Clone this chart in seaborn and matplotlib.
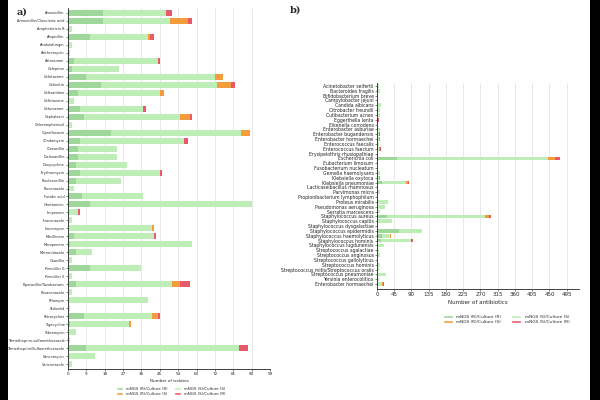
import matplotlib.pyplot as plt
import numpy as np
import pandas as pd
import seaborn as sns
from matplotlib.patches import Patch, Rectangle

# panel a: antibiotics
antibiotics = [
    "Amoxicillin", "Amoxicillin/Clavulanic acid", "Amphotericin B", "Ampicillin",
    "Anidulafungin", "Azithromycin", "Aztreonam", "Cefepime", "Cefotaxime",
    "Cefoxitin", "Ceftazidime", "Ceftriaxone", "Cefuroxime", "Cephalexin",
    "Chloramphenicol", "Ciprofloxacin", "Clindamycin", "Cloxacillin",
    "Dicloxacillin", "Doxycycline", "Erythromycin", "Flucloxacillin",
    "Fluconazole", "Fusidic acid", "Gentamicin", "Imipenem", "Itraconazole",
    "Lincomycin", "Mecillinam", "Meropenem", "Metronidazole", "Oxacillin",
    "Penicillin G", "Penicillin V", "Piperacillin/Tazobactam", "Posaconazole",
    "Rifampin", "Tedizolid", "Tetracycline", "Tigecycline", "Tobramycin",
    "Trimethoprim-sulfamethoxazole", "Trimethoprim/Sulfamethoxazole",
    "Vancomycin", "Voriconazole",
]
ab_rr = [17, 17, 0, 11, 0, 0, 3, 2, 9, 16, 5, 0, 6, 8, 0, 21, 6, 5, 5, 4, 6, 4,
         0, 7, 11, 0, 0, 0, 3, 1, 4, 0, 11, 0, 4, 0, 0, 0, 8, 1, 0, 0, 9, 0, 0]
ab_ss = [31, 33, 2, 28, 2, 1, 41, 23, 63, 57, 40, 3, 31, 47, 2, 64, 51, 19, 19, 25, 39, 22,
         3, 30, 79, 5, 2, 41, 39, 60, 8, 2, 25, 2, 47, 2, 39, 1, 33, 29, 4, 1, 75, 13, 2]
ab_rs = [0, 9, 0, 1, 0, 0, 0, 0, 4, 7, 2, 0, 0, 5, 0, 4, 0, 0, 0, 0, 0, 0,
         0, 0, 0, 0, 0, 1, 0, 0, 0, 0, 0, 0, 4, 0, 0, 0, 3, 1, 0, 0, 0, 0, 0]
ab_sr = [3, 2, 0, 2, 0, 0, 1, 0, 0, 2, 0, 0, 1, 1, 0, 0, 2, 0, 0, 0, 1, 0,
         0, 0, 0, 1, 0, 0, 1, 0, 0, 0, 0, 0, 5, 0, 0, 0, 1, 0, 0, 0, 4, 0, 0]

# panel b: species
species = [
    "Acinetobacter seifertii", "Bacteroides fragilis", "Bifidobacterium breve",
    "Campylobacter jejuni", "Candida albicans", "Citrobacter freundii",
    "Cutibacterium acnes", "Eggerthella lenta", "Eikenella corrodens",
    "Enterobacter asburiae", "Enterobacter bugandensis", "Enterobacter hormaechei",
    "Enterococcus faecalis", "Enterococcus faecium", "Erysipelothrix rhusiopathiae",
    "Escherichia coli", "Eubacterium limosum", "Fusobacterium nucleatum",
    "Gemella haemolysans", "Klebsiella oxytoca", "Klebsiella pneumoniae",
    "Lacticaseibacillus rhamnosus", "Parvimonas micra",
    "Propionibacterium lymphophilum", "Proteus mirabilis",
    "Pseudomonas aeruginosa", "Serratia marcescens", "Staphylococcus aureus",
    "Staphylococcus capitis", "Staphylococcus dysgalactiae",
    "Staphylococcus epidermidis", "Staphylococcus haemolyticus",
    "Staphylococcus hominis", "Staphylococcus lugdunensis",
    "Streptococcus agalactiae", "Streptococcus anginosus",
    "Streptococcus gallolyticus", "Streptococcus hominis",
    "Streptococcus mitis/Streptococcus oralis", "Streptococcus pneumoniae",
    "Yersinia enterocolitica", "Enterobacter hormaechei",
]
sp_rr = [0, 2, 0, 0, 0, 2, 0, 0, 0, 2, 0, 0, 0, 0, 0, 51, 0, 0, 0, 0, 13,
         0, 0, 0, 3, 0, 0, 26, 3, 0, 58, 13, 10, 0, 0, 0, 0, 0, 0, 0, 0, 3]
sp_ss = [5, 7, 3, 3, 11, 7, 9, 3, 1, 7, 5, 5, 5, 5, 1, 395, 3, 1, 8, 6, 63,
         3, 8, 3, 27, 22, 8, 255, 35, 3, 59, 21, 79, 18, 5, 9, 3, 8, 5, 24, 6, 11]
sp_rs = [0, 0, 0, 0, 0, 0, 0, 0, 0, 0, 0, 2, 0, 2, 0, 19, 0, 0, 0, 2, 5,
         0, 0, 0, 0, 0, 0, 12, 0, 0, 0, 2, 0, 0, 0, 0, 0, 0, 0, 0, 0, 2]
sp_sr = [0, 0, 0, 0, 0, 0, 0, 2, 0, 0, 3, 2, 0, 3, 0, 12, 0, 0, 0, 1, 3,
         0, 0, 0, 0, 0, 0, 5, 0, 0, 0, 1, 5, 0, 0, 0, 0, 0, 0, 0, 0, 2]

legend_labels = ["mNGS (R)/Culture (R)", "mNGS (R)/Culture (S)",
                 "mNGS (S)/Culture (S)", "mNGS (S)/Culture (R)"]
c_rr, c_ss, c_rs, c_sr = "#9fd69a", "#bfedb8", "#f39c3c", "#e85a6a"

sns.set_theme(style="ticks")
plt.rcParams["font.family"] = ["DejaVu Sans"]


def stacked(ax, names, rr, ss, rs, sr, width):
    keys = [f"k{i:02d}" for i in range(len(names))]
    rr, ss, rs, sr = (np.array(v) for v in (rr, ss, rs, sr))
    layers = [(rr + ss + rs + sr, c_sr), (rr + ss + rs, c_rs),
              (rr + ss, c_ss), (rr, c_rr)]
    for vals, color in layers:
        df = pd.DataFrame({"key": keys, "val": vals})
        sns.barplot(data=df, x="val", y="key", order=keys, orient="y",
                    color=color, saturation=1, width=width, ax=ax,
                    linewidth=0)
    ax.set_yticks(range(len(names)))
    ax.set_yticklabels(names)
    ax.set_ylabel("")
    ax.grid(axis="x", color="#e4e4e4", linewidth=0.6)
    ax.set_axisbelow(True)
    sns.despine(ax=ax)
    for s in ("left", "bottom"):
        ax.spines[s].set_linewidth(0.6)
        ax.spines[s].set_color("#222222")
    ax.tick_params(length=1.5, width=0.4, pad=1)


fig = plt.figure(figsize=(6, 4), dpi=100)
fig.patch.set_facecolor("black")
fig.add_artist(Rectangle((8 / 600, 0), 582 / 600, 1, transform=fig.transFigure,
                         facecolor="white", edgecolor="none", zorder=-10))

ax_a = fig.add_axes([68 / 600, 1 - 369 / 400, 202 / 600, 361 / 400])
stacked(ax_a, antibiotics, ab_rr, ab_ss, ab_rs, ab_sr, 0.75)
ax_a.set_xlim(0, 99)
ax_a.set_xticks(range(0, 100, 9))
ax_a.set_ylim(len(antibiotics) - 0.4, -0.6)
ax_a.tick_params(axis="y", labelsize=2.5)
ax_a.tick_params(axis="x", labelsize=3)
ax_a.set_xlabel("Number of isolates", fontsize=3, labelpad=1.5)

ax_b = fig.add_axes([377 / 600, 1 - 289 / 400, 202 / 600, 206 / 400])
stacked(ax_b, species, sp_rr, sp_ss, sp_rs, sp_sr, 0.75)
ax_b.set_xlim(0, 527)
ax_b.set_xticks(range(0, 500, 45))
ax_b.set_ylim(len(species) - 1 + 1.0, -0.6)
ax_b.tick_params(axis="y", labelsize=3.3)
ax_b.tick_params(axis="x", labelsize=4)
ax_b.set_xlabel("Number of antibiotics", fontsize=4, labelpad=1.5)

handles = [Patch(facecolor=c) for c in (c_rr, c_rs, c_ss, c_sr)]
legend_opts = [
    (ax_a, (0.51, -0.04), 2.8, 1.7, 1.7),
    (ax_b, (0.64, -0.105), 3.1, 2.3, 2.3),
]
for ax, anchor, fs, hl, cs in legend_opts:
    ax.legend(handles, legend_labels, ncol=2, loc="upper center",
              bbox_to_anchor=anchor, frameon=False, fontsize=fs,
              handlelength=hl, handleheight=0.8, columnspacing=cs,
              labelspacing=0.3)

fig.text(17 / 600, 1 - 12 / 400, "a)", family="DejaVu Serif", fontweight="bold",
         fontsize=7, va="center", ha="left")
fig.text(290 / 600, 1 - 10 / 400, "b)", family="DejaVu Serif", fontweight="bold",
         fontsize=7, va="center", ha="left")

fig.savefig("out.png", dpi=100, facecolor=fig.get_facecolor())
